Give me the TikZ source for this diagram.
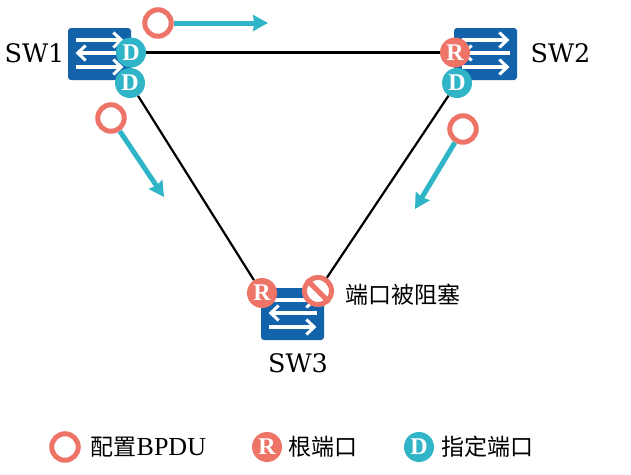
\documentclass[tikz,border=0pt]{standalone}
\usepackage{fontspec}
\setmainfont{Liberation Serif}
\newfontfamily\cjk{Noto Sans CJK SC}
\newfontfamily\swfont{DejaVu Serif}
\usetikzlibrary{arrows.meta,calc}
\definecolor{swblue}{HTML}{1363AB}
\definecolor{portred}{HTML}{EE7468}
\definecolor{portteal}{HTML}{30B5C8}
\begin{document}
\begin{tikzpicture}[x=1pt,y=-1pt,
  sw/.style={rectangle,rounded corners=3pt,fill=swblue,minimum width=63pt,minimum height=52pt,inner sep=0pt},
  swname/.style={font=\fontsize{25.5}{26}\swfont,inner sep=0pt},
  port/.style={circle,text=white,minimum size=30pt,inner sep=0pt,font=\fontsize{24}{24}\selectfont\bfseries},
  rp/.style={port,fill=portred},
  dp/.style={port,fill=portteal},
  bpdu/.style={circle,draw=portred,line width=5pt,fill=white,minimum size=26.5pt,inner sep=0pt},
  lbl/.style={font=\fontsize{23}{23}\selectfont,anchor=west,inner sep=0pt},
  link/.style={black,line width=2.2pt},
  ar/.style={-{Stealth[length=15pt,width=16pt,inset=1.5pt]},portteal,line width=5pt},
  wire/.style={-{Straight Barb[length=8pt,width=15pt,line width=3pt]},white,line width=3.5pt}]
\useasboundingbox (0,0) rectangle (631,474);
\node[sw](sw1) at (99.5,54){};
\node[sw](sw2) at (485.5,54){};
\node[sw](sw3) at (292.5,314){};
\foreach \s in {sw1,sw2,sw3}{
  \draw[wire]([xshift=-24pt,yshift=14pt]\s.center)--([xshift=24pt,yshift=14pt]\s.center);
  \draw[wire]([xshift=24pt,yshift=1pt]\s.center)--([xshift=-24pt,yshift=1pt]\s.center);
  \draw[wire]([xshift=-24pt,yshift=-13pt]\s.center)--([xshift=24pt,yshift=-13pt]\s.center);
}
\node[swname](n1) at (34.5,53){SW1};
\node[swname](n2) at (560.5,53){SW2};
\node[swname](n3) at (298,363){SW3};
\node[dp](d1) at (131,52.5){D};
\node[dp](d2) at (130,83){D};
\node[rp](r2) at (455,52.5){R};
\node[dp](d3) at (457,83){D};
\node[rp](r3) at (262,293){R};
\node[circle,draw=portred,line width=5pt,fill=white,minimum size=27pt,inner sep=0pt](blk) at (318,291){};
\draw[portred,line width=5pt](blk.135)--(blk.315);
\draw[link](d1)--(r2);
\draw[link](d2)--(r3);
\draw[link](d3)--(blk);
% bpdu
\node[bpdu](b1) at (158,23){};
\node[bpdu](b2) at (111,118){};
\node[bpdu](b3) at (463,129){};
\coordinate(e1) at (268,23);
\coordinate(e2) at (164,197);
\coordinate(e3) at (415,209);
\draw[ar](b1)--(e1);
\draw[ar](b2)--(e2);
\draw[ar](b3)--(e3);
\node[lbl](txt) at (345,295){\cjk 端口被阻塞};
% legend
\node[bpdu](lg1) at (65,447){};
\node[lbl](lt1) at (90.5,447){{\cjk 配置}{\fontsize{26}{26}\selectfont BPDU}};
\node[rp](lg2) at (267,447){R};
\node[lbl](lt2) at (288,447){\cjk 根端口};
\node[dp](lg3) at (419,447){D};
\node[lbl](lt3) at (441,447){\cjk 指定端口};
\end{tikzpicture}
\end{document}
